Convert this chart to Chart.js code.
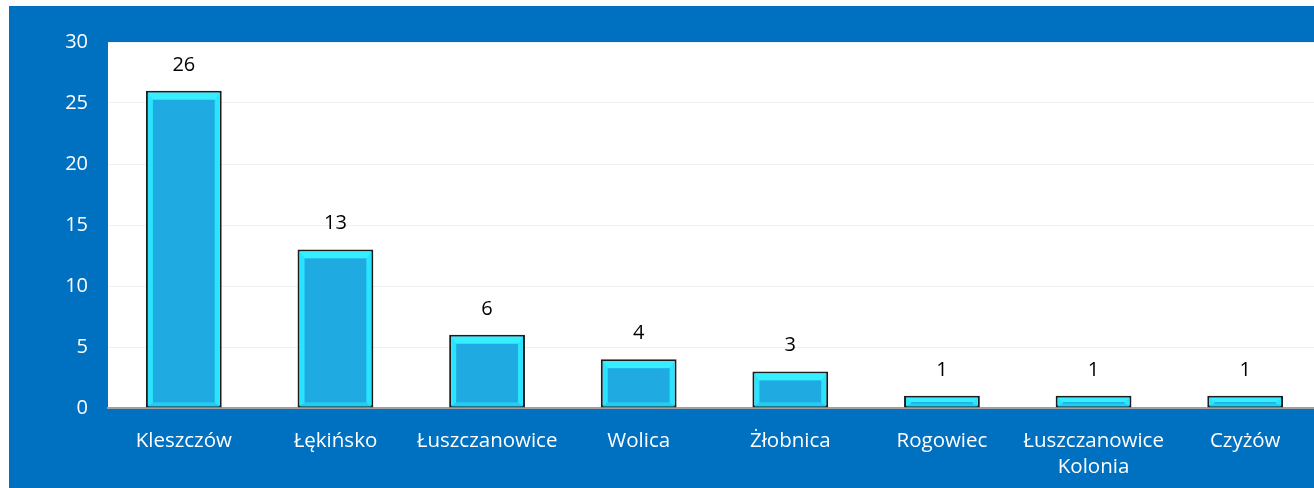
<!DOCTYPE html>
<html>
<head>
<meta charset="utf-8">
<script src="https://cdn.jsdelivr.net/npm/chart.js@4"></script>
<style>
  html, body { margin: 0; padding: 0; background: #fff; overflow: hidden; }
  #wrap { position: absolute; left: 9px; top: 6px; width: 1320px; height: 482px; background: #0070C0; }
</style>
</head>
<body>
<div id="wrap"><canvas id="barChart"></canvas></div>
<script>
const labels = ['Kleszczów', 'Łękińsko', 'Łuszczanowice', 'Wolica', 'Żłobnica', 'Rogowiec', ['Łuszczanowice', 'Kolonia'], 'Czyżów'];
const values = [26, 13, 6, 4, 3, 1, 1, 1];
const yTicks = [0, 5, 10, 15, 20, 25, 30];

Chart.defaults.font.family = "'Open Sans', sans-serif";

// białe tło obszaru wykresu
const plotBg = {
    id: 'plotBg',
    beforeDraw(chart) {
        const { ctx, chartArea: a } = chart;
        ctx.save();
        ctx.fillStyle = '#ffffff';
        ctx.fillRect(a.left, a.top, a.right - a.left, a.bottom - a.top);
        ctx.restore();
    }
};

// wewnętrzny prostokąt (efekt fazowania) + etykiety wartości
const bevel = {
    id: 'bevel',
    afterDatasetsDraw(chart) {
        const { ctx } = chart;
        const meta = chart.getDatasetMeta(0);
        ctx.save();
        meta.data.forEach((bar, i) => {
            const w = bar.width;
            const left = bar.x - w / 2 + 2;
            const right = bar.x + w / 2 - 2;
            const top = bar.y + 2;
            const bottom = bar.base - 1;
            const h = bottom - top;
            const side = 5, topIn = Math.min(7, h / 2), botIn = Math.min(4, h / 3);
            // górna ściana jaśniejsza
            ctx.fillStyle = '#35EEFF';
            ctx.beginPath();
            ctx.moveTo(left, top); ctx.lineTo(right, top);
            ctx.lineTo(right - side, top + topIn); ctx.lineTo(left + side, top + topIn);
            ctx.closePath(); ctx.fill();
            // dolna ściana
            ctx.fillStyle = '#22CCF2';
            ctx.beginPath();
            ctx.moveTo(left, bottom); ctx.lineTo(right, bottom);
            ctx.lineTo(right - side, bottom - botIn); ctx.lineTo(left + side, bottom - botIn);
            ctx.closePath(); ctx.fill();
            // środek
            ctx.fillStyle = '#1FABE2';
            ctx.fillRect(left + side, top + topIn, right - left - 2 * side, h - topIn - botIn);

            ctx.fillStyle = '#000000';
            ctx.font = "20px 'Open Sans', sans-serif";
            ctx.textAlign = 'center';
            ctx.textBaseline = 'middle';
            ctx.fillText(String(values[i]), bar.x, bar.y - 26);
        });
        ctx.restore();
    }
};

new Chart(document.getElementById('barChart'), {
    type: 'bar',
    data: {
        labels: labels,
        datasets: [{
            data: values,
            backgroundColor: '#2AE4FF',
            borderColor: '#1c1c1c',
            borderWidth: 2,
            borderSkipped: false,
            barPercentage: 0.5,
            categoryPercentage: 1
        }]
    },
    options: {
        responsive: true,
        maintainAspectRatio: false,
        animation: false,
        layout: { padding: { top: 36, right: 8, left: 0, bottom: 0 } },
        plugins: { legend: { display: false }, tooltip: { enabled: false } },
        scales: {
            x: {
                grid: { display: false, drawTicks: false },
                border: { display: true, color: '#a0a0a0', width: 2 },
                ticks: { color: '#ffffff', font: { size: 20.5, lineHeight: 1.27 }, padding: 20, maxRotation: 0, autoSkip: false },
                afterFit(scale) { scale.height = 80; }
            },
            y: {
                min: 0,
                max: 30,
                afterBuildTicks(scale) { scale.ticks = yTicks.map(v => ({ value: v })); },
                grid: { color: '#f0f0f0', lineWidth: 1, drawTicks: false },
                border: { display: false },
                ticks: { color: '#ffffff', font: { size: 20 }, padding: 20 },
                afterFit(scale) { scale.width = 99; }
            }
        }
    },
    plugins: [plotBg, bevel]
});
</script>
</body>
</html>
